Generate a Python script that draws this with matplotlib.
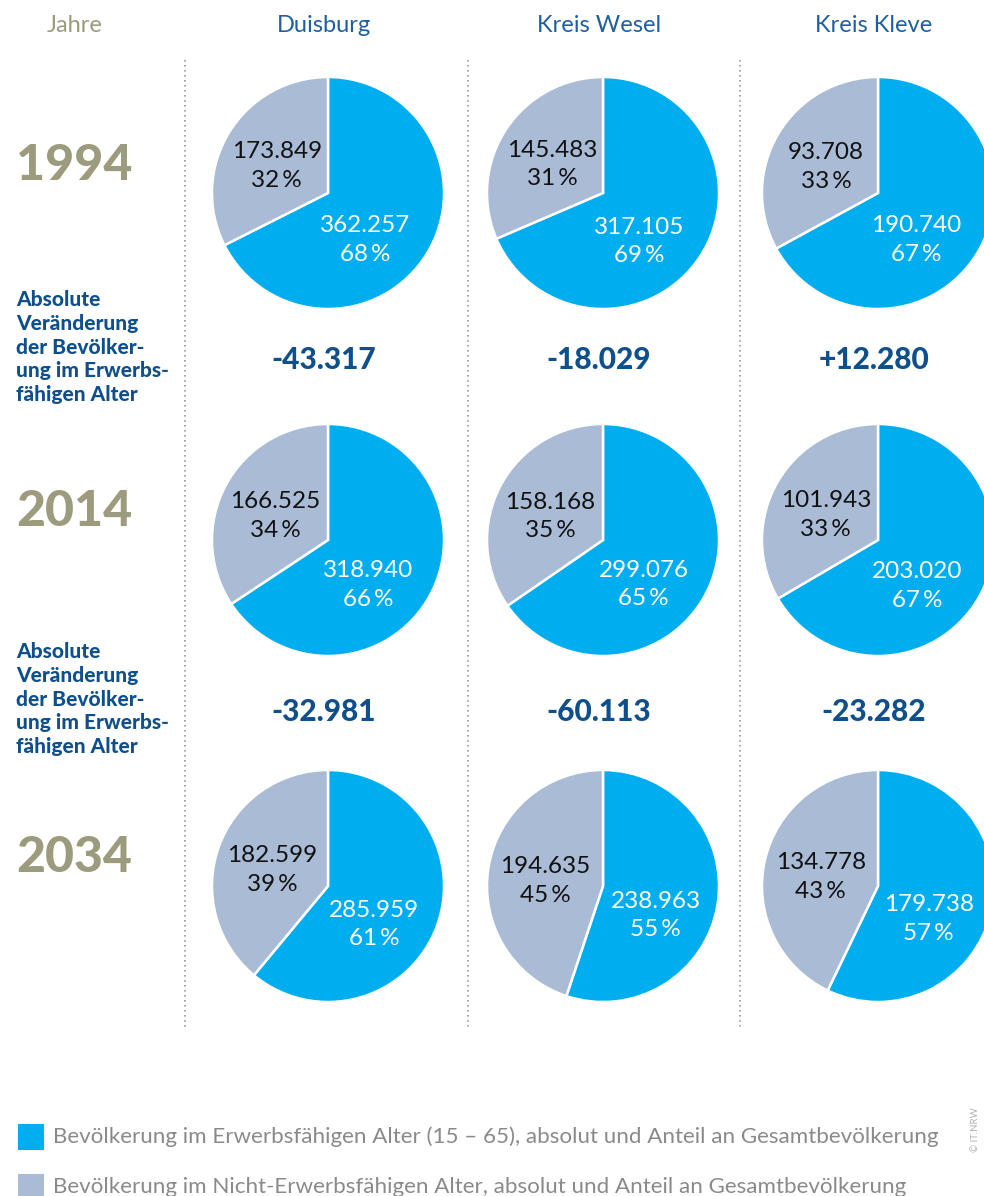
import numpy as np
import matplotlib
matplotlib.use("Agg")
import matplotlib.pyplot as plt
from matplotlib.lines import Line2D
from matplotlib.patches import Rectangle

# data
cities = ["Duisburg", "Kreis Wesel", "Kreis Kleve"]
years = ["1994", "2014", "2034"]
erwerb = [[362257, 317105, 190740],
          [318940, 299076, 203020],
          [285959, 238963, 179738]]
nicht = [[173849, 145483, 93708],
         [166525, 158168, 101943],
         [182599, 194635, 134778]]
legend_labels = ["Bevölkerung im Erwerbsfähigen Alter (15 – 65), absolut und Anteil an Gesamtbevölkerung",
                 "Bevölkerung im Nicht-Erwerbsfähigen Alter, absolut und Anteil an Gesamtbevölkerung"]
change_label = "Absolute\nVeränderung\nder Bevölker-\nung im Erwerbs-\nfähigen Alter"

BLUE = "#00adef"
GREY = "#a9bbd5"
NAVY = "#0e4f8c"
OLIVE = "#9c9b7d"
HEAD = "#1f5f9f"

W, H = 984, 1196
fig = plt.figure(figsize=(W / 100, H / 100), dpi=100)
SANS = ["Lato", "DejaVu Sans"]


def fmt(v):
    return f"{v:,}".replace(",", ".")


def fx(x):
    return x / W


def fy(y):
    return 1 - y / H


col_x = [328, 603, 878]
row_y = [193, 540, 886]
R = 116

# headers
fig.text(fx(75), fy(26), "Jahre", color=OLIVE, fontsize=17, family=SANS,
         ha="center", va="center")
for c, x in zip(cities, col_x):
    fig.text(fx(x - 4), fy(26), c, color=HEAD, fontsize=17, family=SANS,
             ha="center", va="center")

# dotted separators
for x in [185, 468, 740]:
    fig.add_artist(Line2D([fx(x), fx(x)], [fy(60), fy(1030)], transform=fig.transFigure,
                          color="#9a9a9a", lw=1.2, ls=(0, (1, 2))))

# year labels
for y, yr in zip(row_y, years):
    fig.text(fx(16), fy(y - 28), yr, color=OLIVE, fontsize=36, family="Lato",
             weight="black", ha="left", va="center")

# pies
for i in range(3):
    for j in range(3):
        a, b = erwerb[i][j], nicht[i][j]
        cx, cy = col_x[j], row_y[i]
        ax = fig.add_axes([fx(cx - R), fy(cy + R), 2 * R / W, 2 * R / H])
        ax.pie([a, b], colors=[BLUE, GREY], startangle=90, counterclock=False,
               wedgeprops=dict(edgecolor="white", linewidth=1.8))
        ax.set_xlim(-1, 1)
        ax.set_ylim(-1, 1)
        ax.axis("off")
        frac = a / (a + b)
        mid_b = np.radians(frac * 180 + 20)
        mid_g = np.radians(frac * 360 + (1 - frac) * 180 - 4)
        ax.text(0.52 * np.sin(mid_b), 0.52 * np.cos(mid_b),
                f"{fmt(a)}\n{round(frac * 100)}\u2009%", color="white",
                fontsize=17.5, family=SANS, ha="center", va="center",
                linespacing=1.45)
        ax.text(0.5 * np.sin(mid_g), 0.5 * np.cos(mid_g),
                f"{fmt(b)}\n{round((1 - frac) * 100)}\u2009%", color="#111111",
                fontsize=17.5, family=SANS, ha="center", va="center",
                linespacing=1.45)

# changes between rows
for k, y in enumerate([360, 712]):
    fig.text(fx(16), fy(y - 13), change_label, color=NAVY, fontsize=15, family="Lato",
             weight="black", ha="left", va="center", linespacing=1.3)
    for j, x in enumerate(col_x):
        d = erwerb[k + 1][j] - erwerb[k][j]
        s = ("+" if d > 0 else "-") + fmt(abs(d))
        fig.text(fx(x - 4), fy(y), s, color=NAVY, fontsize=21.5, family="Lato",
                 weight="black", ha="center", va="center")

# legend
for k, (lab, col) in enumerate(zip(legend_labels, [BLUE, GREY])):
    y = 1137 + k * 50
    fig.add_artist(Rectangle((fx(18), fy(y + 13)), 26 / W, 26 / H,
                             transform=fig.transFigure, color=col, lw=0))
    fig.text(fx(53), fy(y), lab, color="#8a8a8a", fontsize=16.1, family=SANS,
             ha="left", va="center")

fig.text(fx(976), fy(1130), "© IT.NRW", color="#b0b0b0", fontsize=7, family=SANS,
         rotation=90, ha="center", va="center")

fig.savefig("out.png", dpi=100)
